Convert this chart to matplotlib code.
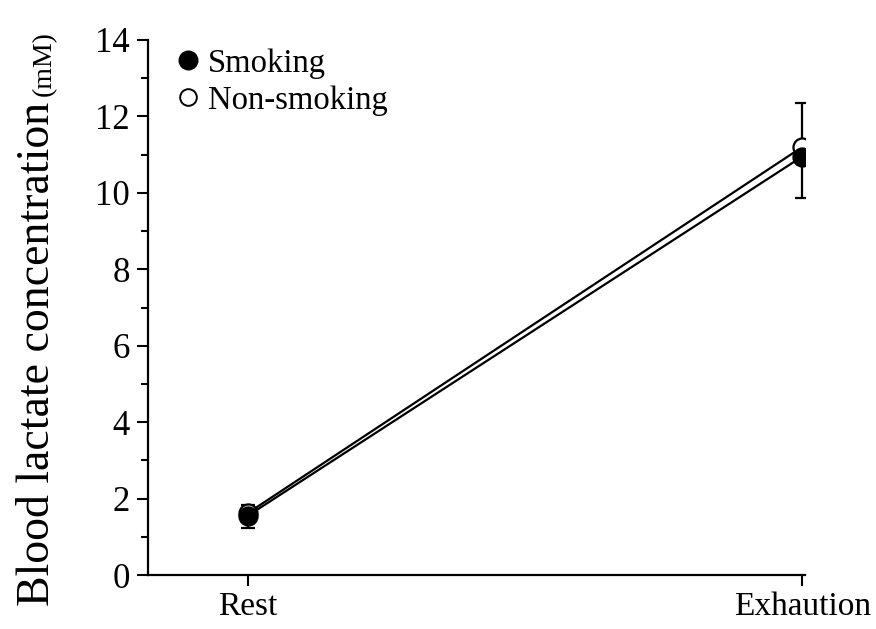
import matplotlib.pyplot as plt
from matplotlib.lines import Line2D
import numpy as np

# --- DATA ---
conditions = ['Rest', 'Exhaution']
smoking = [1.55, 10.95]
smoking_err_low = [0.32, 1.08]
non_smoking = [1.62, 11.2]
non_smoking_err_high = [0.22, 1.15]

plt.rcParams['font.family'] = ['Liberation Serif', 'DejaVu Serif']

fig = plt.figure(figsize=(8.76, 6.29), dpi=100)
ax = fig.add_axes([148 / 876, 1 - 575 / 629, (805 - 148) / 876, (575 - 40) / 629])

x = np.arange(len(conditions))

# non-smoking first so the filled markers sit on top
ax.errorbar(x, non_smoking, yerr=[np.zeros(len(x)), non_smoking_err_high],
            color='black', lw=1.6, elinewidth=1.6, capsize=5, capthick=1.6,
            marker='o', markersize=13, markerfacecolor='white',
            markeredgecolor='black', markeredgewidth=1.6, zorder=3)
ax.errorbar(x, smoking, yerr=[smoking_err_low, np.zeros(len(x))],
            color='black', lw=1.6, elinewidth=1.6, capsize=5, capthick=1.6,
            marker='o', markersize=13, markerfacecolor='black',
            markeredgecolor='black', markeredgewidth=1.6, zorder=4)

ax.set_xlim(-0.18, 1.005)
ax.set_ylim(0, 14)
ax.set_yticks(np.arange(0, 15, 2))
ax.set_yticks(np.arange(1, 14, 2), minor=True)
ax.set_xticks(x)
ax.set_xticklabels(conditions)

for side in ['top', 'right']:
    ax.spines[side].set_visible(False)
for side in ['left', 'bottom']:
    ax.spines[side].set_linewidth(1.6)

ax.tick_params(axis='y', which='major', direction='out', length=8, width=1.5,
               labelsize=25, pad=5)
ax.tick_params(axis='y', which='minor', direction='out', length=5, width=1.5)
ax.tick_params(axis='x', which='major', direction='out', length=8, width=1.5,
               labelsize=24, pad=4)

# y label in two sizes
fig.text(38 / 876, 1 - 606 / 629, 'Blood lactate concentration', fontsize=33,
         rotation=90, ha='center', va='bottom')
fig.text(44 / 876, 1 - 96 / 629, '(mM)', fontsize=20,
         rotation=90, ha='center', va='bottom')

# legend with plain markers
handles = [
    Line2D([], [], ls='none', marker='o', markersize=13, markerfacecolor='black',
           markeredgecolor='black', markeredgewidth=1.4),
    Line2D([], [], ls='none', marker='o', markersize=12, markerfacecolor='white',
           markeredgecolor='black', markeredgewidth=1.4),
]
ax.legend(handles, ['Smoking', 'Non-smoking'], loc='upper left',
          bbox_to_anchor=(162 / 876, 1 - 32 / 629),
          bbox_transform=fig.transFigure, frameon=False, fontsize=23.5,
          handlelength=0.6, handletextpad=0.3, labelspacing=0.2,
          borderpad=0)

fig.savefig('out.png', dpi=100)
